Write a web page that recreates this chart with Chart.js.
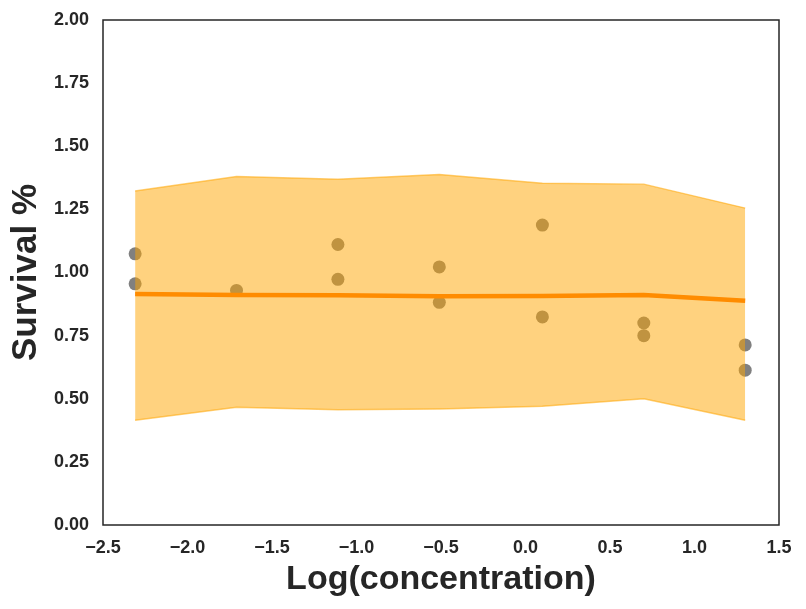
<!DOCTYPE html>
<html>
<head>
<meta charset="utf-8">
<script src="https://cdn.jsdelivr.net/npm/chart.js@4.4.0/dist/chart.umd.min.js"></script>
<style>
  html, body { margin: 0; padding: 0; background: #fff; }
  #wrap { width: 806px; height: 609px; }
</style>
</head>
<body>
<div id="wrap"><canvas id="survivalChart" width="806" height="609"></canvas></div>
<script>
// dose levels (log10 of concentration)
const logConc = [-2.31, -1.71, -1.11, -0.51, 0.10, 0.70, 1.30];
// fitted curve and band
const fitMean = [0.915, 0.911, 0.910, 0.906, 0.907, 0.911, 0.888];
const bandUpper = [1.323, 1.380, 1.369, 1.388, 1.353, 1.350, 1.255];
const bandLower = [0.415, 0.466, 0.456, 0.459, 0.470, 0.500, 0.415];
// observed replicates
const obsX = [-2.31, -2.31, -1.71, -1.11, -1.11, -0.51, -0.51, 0.10, 0.10, 0.70, 0.70, 1.30, 1.30];
const obsY = [1.074, 0.955, 0.929, 1.111, 0.973, 1.022, 0.882, 1.188, 0.824, 0.800, 0.750, 0.713, 0.613];

const xTicks = [-2.5, -2.0, -1.5, -1.0, -0.5, 0.0, 0.5, 1.0, 1.5];
const yTicks = [0, 0.25, 0.5, 0.75, 1.0, 1.25, 1.5, 1.75, 2.0];

const FONT = '"Liberation Sans", Arial, sans-serif';

function pts(xs, ys) {
    return xs.map(function(x, i) { return { x: x, y: ys[i] }; });
}

const framePlugin = {
    id: 'frame',
    afterDraw: function(chart) {
        const a = chart.chartArea;
        const ctx = chart.ctx;
        ctx.save();
        ctx.strokeStyle = '#262626';
        ctx.lineWidth = 1.5;
        ctx.strokeRect(a.left, a.top, a.right - a.left, a.bottom - a.top);
        ctx.restore();
    }
};

document.addEventListener('DOMContentLoaded', function() {
    const ctx = document.getElementById('survivalChart');
    new Chart(ctx, {
        type: 'scatter',
        data: {
            datasets: [
                {
                    label: 'fit',
                    data: pts(logConc, fitMean),
                    showLine: true,
                    borderColor: '#ff8c00',
                    borderWidth: 4.5,
                    pointRadius: 0,
                    fill: false
                },
                {
                    label: 'upper',
                    data: pts(logConc, bandUpper),
                    showLine: true,
                    borderColor: 'rgba(255,165,0,0.55)',
                    borderWidth: 1.5,
                    backgroundColor: 'rgba(255,165,0,0.5)',
                    pointRadius: 0,
                    fill: 2
                },
                {
                    label: 'lower',
                    data: pts(logConc, bandLower),
                    showLine: true,
                    borderColor: 'rgba(255,165,0,0.55)',
                    borderWidth: 1.5,
                    pointRadius: 0,
                    fill: false
                },
                {
                    label: 'observed',
                    data: pts(obsX, obsY),
                    showLine: false,
                    backgroundColor: '#808080',
                    borderWidth: 0,
                    pointRadius: 6.5
                }
            ]
        },
        options: {
            responsive: false,
            animation: false,
            devicePixelRatio: 1,
            layout: { padding: { left: 0, right: 27, top: 20, bottom: 0 } },
            plugins: {
                legend: { display: false },
                tooltip: { enabled: false }
            },
            scales: {
                x: {
                    type: 'linear',
                    min: -2.5,
                    max: 1.5,
                    afterBuildTicks: function(scale) {
                        scale.ticks = xTicks.map(function(v) { return { value: v }; });
                    },
                    afterFit: function(scale) { scale.height = 84; },
                    grid: { display: false, drawTicks: false },
                    border: { display: false },
                    ticks: {
                        padding: 12,
                        color: '#262626',
                        font: { family: FONT, size: 18, weight: 'bold' },
                        maxRotation: 0,
                        callback: function(v) { return v.toFixed(1).replace('-', '\u2212'); }
                    },
                    title: {
                        display: true,
                        text: 'Log(concentration)',
                        color: '#262626',
                        font: { family: FONT, size: 34, weight: 'bold' },
                        padding: { top: 0, bottom: 9 }
                    }
                },
                y: {
                    min: 0,
                    max: 2,
                    afterBuildTicks: function(scale) {
                        scale.ticks = yTicks.map(function(v) { return { value: v }; });
                    },
                    afterFit: function(scale) {
                        scale.width = 103;
                        scale.paddingTop = 0;
                        scale.paddingBottom = 0;
                    },
                    grid: { display: false, drawTicks: false },
                    border: { display: false },
                    ticks: {
                        padding: 14,
                        color: '#262626',
                        font: { family: FONT, size: 18, weight: 'bold' },
                        callback: function(v) { return v.toFixed(2); }
                    },
                    title: {
                        display: true,
                        text: 'Survival %',
                        color: '#262626',
                        font: { family: FONT, size: 35, weight: 'bold' },
                        padding: { top: 5, bottom: 0 }
                    }
                }
            }
        },
        plugins: [framePlugin]
    });
});
</script>
</body>
</html>
